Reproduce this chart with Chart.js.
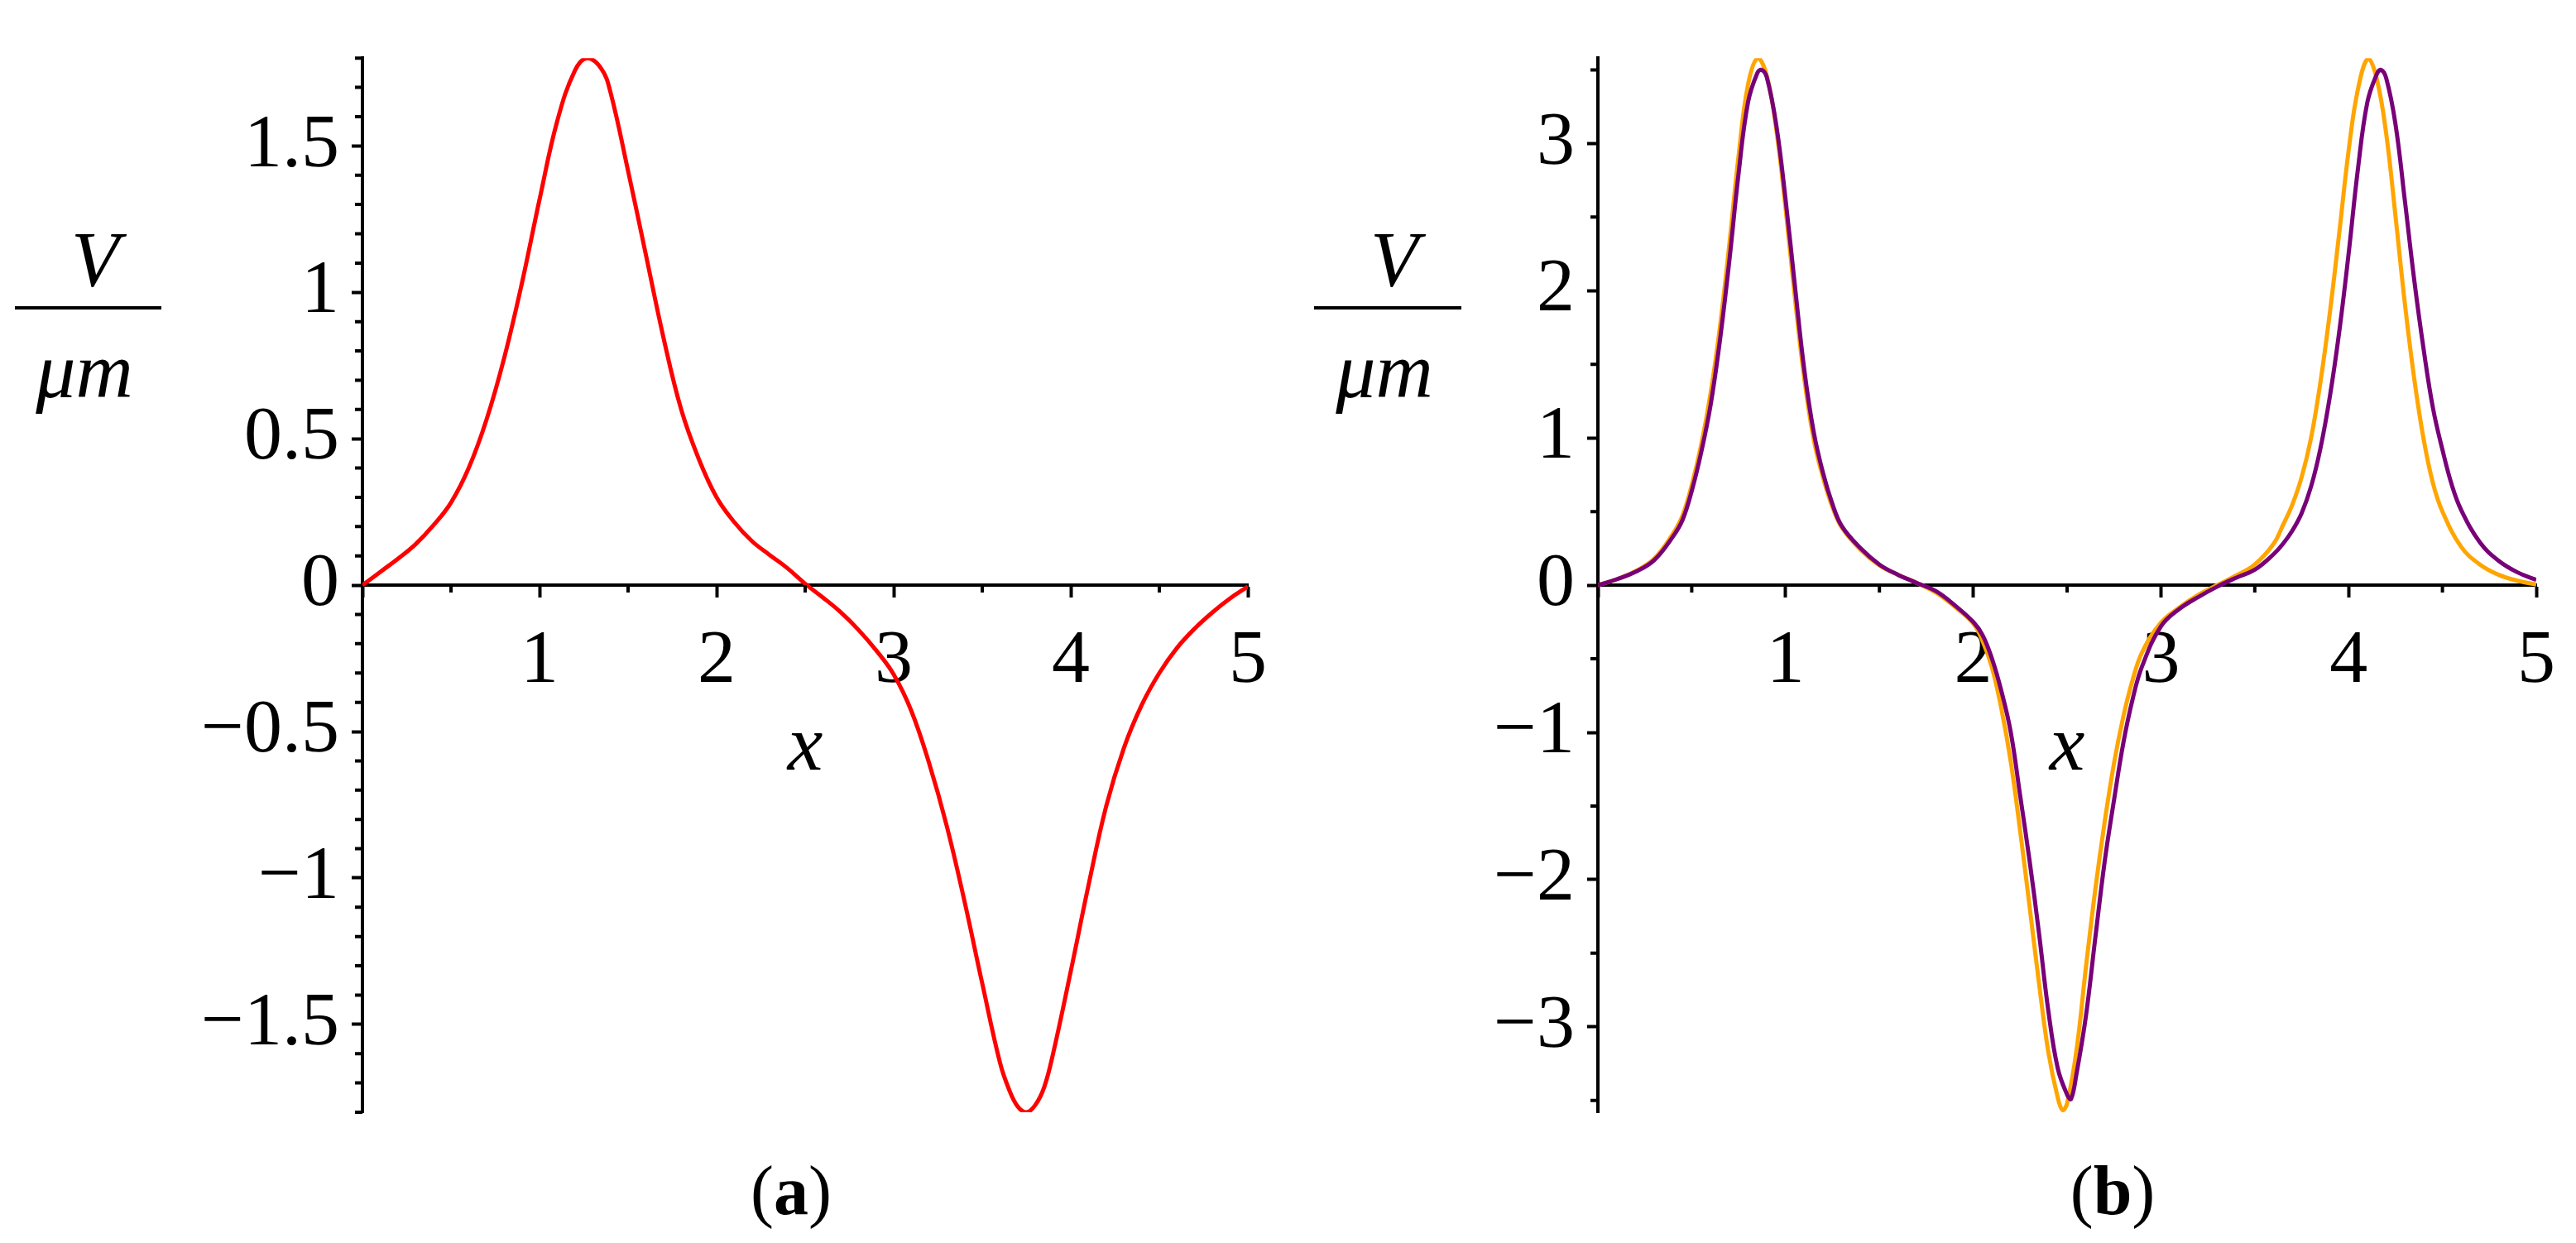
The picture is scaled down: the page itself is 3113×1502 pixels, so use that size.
<!DOCTYPE html>
<html>
<head>
<meta charset="utf-8">
<script src="https://cdn.jsdelivr.net/npm/chart.js@4.4.1/dist/chart.umd.min.js"></script>
<style>
  html, body { margin: 0; padding: 0; background: #fff; }
  body { width: 3113px; height: 1502px; position: relative; overflow: hidden; font-family: 'Liberation Serif', 'Times New Roman', serif; color: #000; }
  canvas { position: absolute; top: 0; }
  .lbl { position: absolute; text-align: center; line-height: 1; white-space: nowrap; }
  .it { font-style: italic; }
  .bar { position: absolute; height: 4px; background: #000; }
</style>
</head>
<body>
<canvas id="chartA" width="1560" height="1502" style="left:0"></canvas>
<canvas id="chartB" width="1553" height="1502" style="left:1560px"></canvas>

<div class="lbl it" style="left:15px;top:267px;width:200px;font-size:95px">V</div>
<div class="bar" style="left:18px;top:370px;width:177px"></div>
<div class="lbl it" style="left:2px;top:400px;width:200px;font-size:96px">μm</div>

<div class="lbl it" style="left:1585px;top:267px;width:200px;font-size:95px">V</div>
<div class="bar" style="left:1588px;top:370px;width:178px"></div>
<div class="lbl it" style="left:1573px;top:400px;width:200px;font-size:96px">μm</div>

<div class="lbl" style="left:856px;top:1397px;width:200px;font-size:84px">(<b>a</b>)</div>
<div class="lbl" style="left:2453px;top:1397px;width:200px;font-size:84px">(<b>b</b>)</div>

<script>
// ── data ─────────────────────────────────────────────────────
const leftX = [0, 0.1, 0.2, 0.3, 0.4, 0.5, 0.6, 0.7, 0.8, 0.9, 1.0, 1.1, 1.2, 1.27, 1.35, 1.4,
  1.5, 1.6, 1.7, 1.8, 1.9, 2.0, 2.1, 2.2, 2.3, 2.4, 2.5, 2.6, 2.7, 2.8, 2.9, 3.0, 3.1, 3.2, 3.3, 3.4, 3.5, 3.6,
  3.65, 3.7, 3.75, 3.8, 3.85, 3.9, 4.0, 4.1, 4.2, 4.3, 4.4, 4.5, 4.6, 4.7, 4.8, 4.9, 5.0];
const leftV = [0, 0.045, 0.09, 0.14, 0.204, 0.282, 0.40, 0.564, 0.775, 1.03, 1.317, 1.585, 1.758, 1.80, 1.763, 1.685,
  1.415, 1.13, 0.845, 0.60, 0.43, 0.30, 0.215, 0.15, 0.103, 0.058, 0.005, -0.042, -0.092, -0.152, -0.222, -0.305, -0.43, -0.608, -0.823, -1.08, -1.36, -1.63,
  -1.72, -1.78, -1.80, -1.775, -1.714, -1.60, -1.318, -1.025, -0.755, -0.556, -0.41, -0.30, -0.214, -0.148, -0.093, -0.045, -0.005];

const orangeX = [0, 0.1, 0.2, 0.3, 0.4, 0.45, 0.5, 0.55, 0.6, 0.65, 0.7, 0.75, 0.8, 0.852, 0.9, 0.95, 1.0, 1.05, 1.1, 1.15, 1.2, 1.25, 1.3,
  1.4, 1.5, 1.6, 1.7, 1.8, 1.9, 2.0, 2.05, 2.1, 2.15, 2.2, 2.25, 2.3, 2.35, 2.4, 2.45, 2.476, 2.5, 2.55, 2.6, 2.65, 2.7, 2.75, 2.8, 2.85, 2.9,
  3.0, 3.1, 3.2, 3.3, 3.4, 3.5, 3.6, 3.65, 3.7, 3.75, 3.8, 3.85, 3.9, 3.95, 4.0, 4.05, 4.104, 4.15, 4.2, 4.25, 4.3, 4.35, 4.4, 4.45, 4.5,
  4.6, 4.7, 4.8, 4.9, 5.0];
const orangeV = [0, 0.04, 0.095, 0.18, 0.35, 0.47, 0.68, 0.95, 1.30, 1.75, 2.31, 2.92, 3.40, 3.58, 3.46, 3.10, 2.56, 1.95, 1.40, 0.99, 0.73, 0.53, 0.39,
  0.24, 0.135, 0.07, 0.015, -0.05, -0.145, -0.26, -0.38, -0.56, -0.84, -1.20, -1.67, -2.18, -2.70, -3.17, -3.48, -3.565, -3.52, -3.16, -2.60, -2.07, -1.61, -1.21, -0.89, -0.64, -0.455,
  -0.255, -0.15, -0.065, 0.0, 0.065, 0.14, 0.28, 0.407, 0.547, 0.735, 1.0, 1.38, 1.85, 2.39, 2.95, 3.37, 3.577, 3.44, 3.07, 2.505, 1.91, 1.40, 0.99, 0.69, 0.50,
  0.26, 0.14, 0.07, 0.03, 0.005];

const purpleX = [0, 0.1, 0.2, 0.3, 0.4, 0.45, 0.5, 0.55, 0.6, 0.65, 0.7, 0.75, 0.8, 0.85, 0.873, 0.9, 0.95, 1.0, 1.05, 1.1, 1.15, 1.2, 1.25, 1.3,
  1.4, 1.5, 1.6, 1.7, 1.8, 1.9, 2.0, 2.05, 2.1, 2.15, 2.2, 2.25, 2.3, 2.35, 2.4, 2.45, 2.5, 2.521, 2.55, 2.6, 2.65, 2.7, 2.75, 2.8, 2.85, 2.9,
  3.0, 3.1, 3.2, 3.3, 3.4, 3.5, 3.6, 3.65, 3.7, 3.75, 3.8, 3.85, 3.9, 3.95, 4.0, 4.05, 4.1, 4.15, 4.172, 4.2, 4.25, 4.3, 4.35, 4.4, 4.45, 4.5, 4.55, 4.6,
  4.7, 4.8, 4.9, 5.0];
const purpleV = [0, 0.04, 0.09, 0.17, 0.33, 0.44, 0.64, 0.90, 1.22, 1.66, 2.20, 2.80, 3.28, 3.48, 3.50, 3.45, 3.13, 2.62, 2.03, 1.46, 1.04, 0.76, 0.55, 0.40,
  0.25, 0.14, 0.07, 0.015, -0.04, -0.135, -0.25, -0.34, -0.50, -0.72, -1.00, -1.43, -1.87, -2.36, -2.89, -3.28, -3.46, -3.49, -3.32, -2.93, -2.40, -1.88, -1.46, -1.07, -0.77, -0.55,
  -0.28, -0.16, -0.08, -0.01, 0.05, 0.105, 0.21, 0.28, 0.37, 0.49, 0.67, 0.93, 1.28, 1.72, 2.25, 2.83, 3.28, 3.47, 3.50, 3.445, 3.13, 2.61, 2.07, 1.60, 1.20, 0.92, 0.68, 0.51,
  0.29, 0.165, 0.087, 0.036];

// ── ticks ────────────────────────────────────────────────────
const xMajor = [0, 1, 2, 3, 4, 5];
const xMinor = [0.5, 1.5, 2.5, 3.5, 4.5];
const leftYMajor = [-1.5, -1, -0.5, 0, 0.5, 1, 1.5];
const leftYMinor = [-1.8, -1.7, -1.6, -1.4, -1.3, -1.2, -1.1, -0.9, -0.8, -0.7, -0.6, -0.4, -0.3, -0.2, -0.1,
  0.1, 0.2, 0.3, 0.4, 0.6, 0.7, 0.8, 0.9, 1.1, 1.2, 1.3, 1.4, 1.6, 1.7, 1.8];
const rightYMajor = [-3, -2, -1, 0, 1, 2, 3];
const rightYMinor = [-3.5, -2.5, -1.5, -0.5, 0.5, 1.5, 2.5, 3.5];

const FONT = "'Liberation Serif', 'Times New Roman', serif";
const pts = (xs, ys) => xs.map((x, i) => ({ x, y: ys[i] }));
const fmt = v => (v < 0 ? '\u2212' : '') + Math.abs(v);

// short minor tick marks, drawn through the chart's own scales
const minorTicks = {
  id: 'minorTicks',
  afterDraw(chart, args, opts) {
    const { ctx, chartArea, scales: { x, y } } = chart;
    const base = y.getPixelForValue(0);
    ctx.save();
    ctx.strokeStyle = '#000';
    ctx.lineWidth = 4;
    ctx.beginPath();
    opts.y.forEach(v => {
      const py = y.getPixelForValue(v);
      ctx.moveTo(chartArea.left - 9, py);
      ctx.lineTo(chartArea.left, py);
    });
    opts.x.forEach(v => {
      const px = x.getPixelForValue(v);
      ctx.moveTo(px, base);
      ctx.lineTo(px, base + 9);
    });
    ctx.stroke();
    ctx.restore();
  }
};

function panel(id, datasets, yLim, yMajor, yMinor, yWidth, padRight) {
  return new Chart(document.getElementById(id), {
    type: 'line',
    data: { datasets },
    plugins: [minorTicks],
    options: {
      responsive: false, animation: false, devicePixelRatio: 1,
      layout: { padding: { left: 0, right: padRight, top: 58, bottom: 158 } },
      plugins: { legend: { display: false }, tooltip: { enabled: false }, minorTicks: { x: xMinor, y: yMinor } },
      elements: { point: { radius: 0 }, line: { borderWidth: 5, tension: 0.4, fill: false } },
      scales: {
        x: {
          type: 'linear', min: 0, max: 5, position: { y: 0 },
          afterBuildTicks: s => { s.ticks = xMajor.map(v => ({ value: v })); },
          ticks: { font: { family: FONT, size: 92 }, color: '#000', padding: 25, maxRotation: 0, autoSkip: false,
            callback: v => (v === 0 ? '' : String(v)) },
          grid: { drawOnChartArea: false, tickLength: 13, tickWidth: 4, tickColor: '#000' },
          border: { color: '#000', width: 4 },
          title: { display: true, text: 'x', color: '#000', padding: { top: -24, bottom: 0 },
            font: { family: FONT, size: 96, style: 'italic', lineHeight: 1 } }
        },
        y: {
          type: 'linear', min: -yLim, max: yLim, position: 'left',
          afterFit: s => { s.width = yWidth; },
          afterBuildTicks: s => { s.ticks = yMajor.map(v => ({ value: v })); },
          ticks: { font: { family: FONT, size: 92 }, color: '#000', padding: 15, callback: v => fmt(v) },
          grid: { drawOnChartArea: false, tickLength: 13, tickWidth: 4, tickColor: '#000' },
          border: { color: '#000', width: 4 }
        }
      }
    }
  });
}

panel('chartA', [
  { data: pts(leftX, leftV), borderColor: '#ff0000' }
], 1.8, leftYMajor, leftYMinor, 438, 52);

panel('chartB', [
  { data: pts(purpleX, purpleV), borderColor: '#780078' },
  { data: pts(orangeX, orangeV), borderColor: '#ffa500' }
], 3.58, rightYMajor, rightYMinor, 371, 33);
</script>
</body>
</html>
